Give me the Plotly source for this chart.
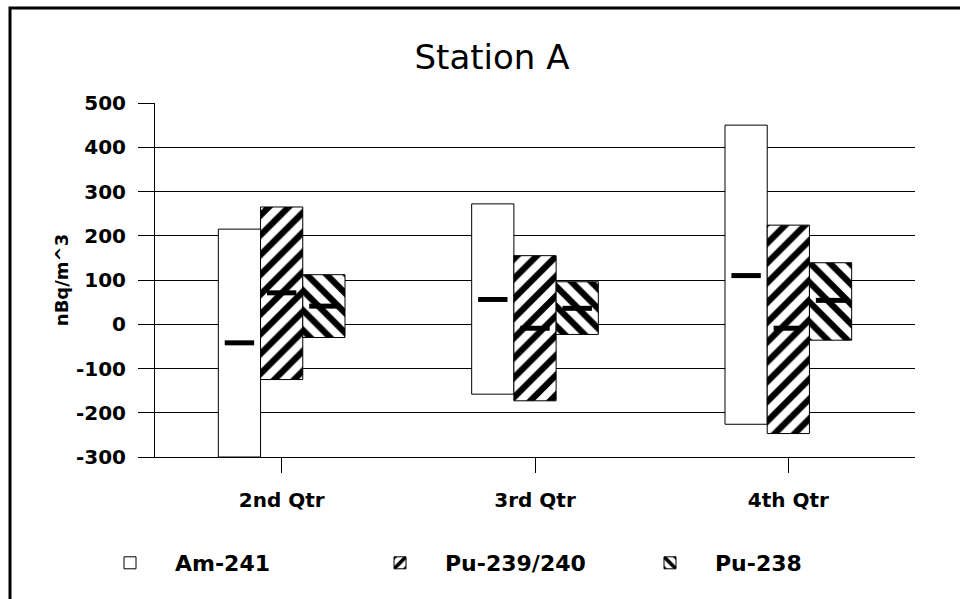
import plotly.graph_objects as go

categories = ["2nd Qtr", "3rd Qtr", "4th Qtr"]
series = ["Am-241", "Pu-239/240", "Pu-238"]

am_low = [-300, -158, -226]
am_high = [215, 272, 450]
am_mean = [-42, 56, 110]

pu239_low = [-125, -173, -247]
pu239_high = [265, 155, 224]
pu239_mean = [71, -9, -9]

pu238_low = [-30, -23, -36]
pu238_high = [112, 96, 139]
pu238_mean = [41, 36, 54]

y_ticks = [-300, -200, -100, 0, 100, 200, 300, 400, 500]

FONT = "DejaVu Sans"
lows = [am_low, pu239_low, pu238_low]
highs = [am_high, pu239_high, pu238_high]
means = [am_mean, pu239_mean, pu238_mean]
shapes_pat = ["", "/", "\\"]

fig = go.Figure()
for k, name in enumerate(series):
    fig.add_trace(go.Bar(
        x=categories,
        y=[h - l for h, l in zip(highs[k], lows[k])],
        base=lows[k],
        name=name,
        offsetgroup=str(k),
        marker=dict(color="white", line=dict(color="black", width=1),
                    pattern=dict(shape=shapes_pat[k], fgcolor="black", bgcolor="white",
                                 fgopacity=1, size=14, solidity=0.45)),
    ))
for k, name in enumerate(series):
    fig.add_trace(go.Scatter(
        x=categories, y=means[k], mode="markers", offsetgroup=str(k),
        showlegend=False, name=name + " mean",
        marker=dict(symbol="line-ew", size=21, line=dict(color="black", width=5)),
    ))

W, H = 960, 599
L, T, R, B = 155, 103, 960 - 915, 599 - 457
pw, ph = W - L - R, H - T - B

def px_x(p):
    return (p - L) / pw

def px_y(p):
    return (H - B - p) / ph

fig.update_layout(
    width=W, height=H,
    margin=dict(l=L, r=R, t=T, b=B),
    paper_bgcolor="white", plot_bgcolor="white",
    barmode="group", bargap=0.5, bargroupgap=0,
    scattermode="group", scattergap=0.5,
    font=dict(family=FONT, color="black"),
    title=dict(text="Station A", font=dict(family=FONT, size=34, color="black"),
               xref="container", x=492 / W, xanchor="center",
               yref="container", y=1 - 57 / H, yanchor="middle"),
    legend=dict(orientation="h", x=px_x(85), xanchor="left", y=px_y(563), yanchor="middle",
                font=dict(family=FONT, size=22, weight="bold"), itemwidth=80,
                entrywidth=175, entrywidthmode="pixels", traceorder="normal"),
    xaxis=dict(showgrid=False, showline=True, linecolor="black", linewidth=1,
               ticks="outside", ticklen=15, tickcolor="black", ticklabelstandoff=10,
               tickfont=dict(family=FONT, size=20, weight="bold"), automargin=False),
    yaxis=dict(range=[-300, 500], tickvals=y_ticks, ticktext=[str(v) for v in y_ticks],
               showgrid=True, gridcolor="black", gridwidth=1,
               zeroline=False, showline=True, linecolor="black", linewidth=1,
               ticks="outside", ticklen=16, tickcolor="black", ticklabelstandoff=8,
               tickfont=dict(family=FONT, size=20, weight="bold"),
               title=dict(text="nBq/m^3", font=dict(family=FONT, size=18, weight="bold"), standoff=2),
               automargin=False),
    shapes=[dict(type="rect", xref="paper", yref="paper",
                 x0=px_x(10), x1=px_x(990), y0=px_y(660), y1=px_y(8),
                 line=dict(color="black", width=3), fillcolor="rgba(0,0,0,0)", layer="above")],
)

fig.write_html("out.html", config={"displayModeBar": False},
               post_script="document.body.style.margin='0';")
